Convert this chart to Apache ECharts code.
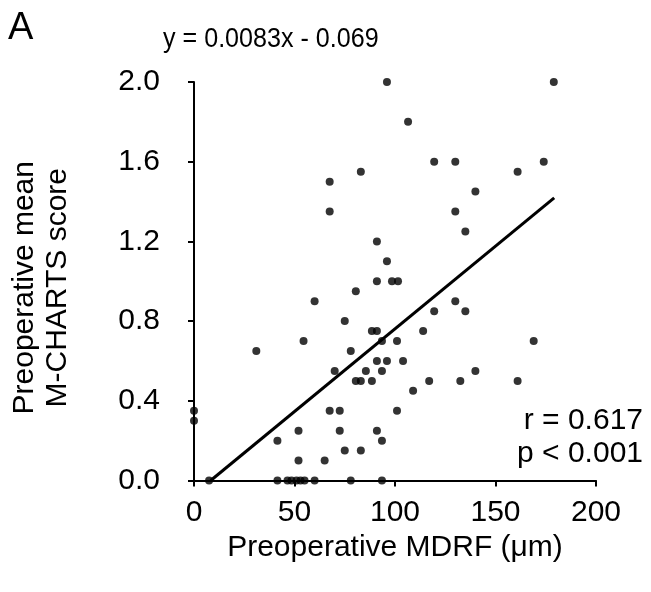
<!DOCTYPE html>
<html>
<head>
<meta charset="utf-8">
<script src="https://cdn.jsdelivr.net/npm/echarts@6/dist/echarts.min.js"></script>
<style>
html,body{margin:0;padding:0;background:#fff;}
#chart{width:651px;height:592px;}
</style>
</head>
<body>
<div id="chart"></div>
<script>
// Preoperative MDRF (µm)
var mdrf = [0, 0, 7.5, 31, 41.5, 41.5, 46.5, 48.5, 51, 53, 55, 60, 52, 52, 54.5, 60, 65,
  67.5, 67.5, 67.5, 72.5, 72.5, 70, 75, 75, 78, 78, 80.5, 80.5, 83, 83, 83, 85.5, 88.5, 88.5,
  91, 91, 91, 91, 91, 93.5, 93.5, 93.5, 93.5, 96, 96, 96, 98.5, 101.5, 101, 104, 101, 106.5,
  109, 114, 117, 119.5, 119.5, 130, 130, 130, 132.5, 135, 135, 140, 140, 161, 161, 169, 174, 179];
// Preoperative mean M-CHARTS score
var score = [0.35, 0.30, 0, 0.65, 0.2, 0, 0, 0, 0, 0, 0, 0, 0.25, 0.1, 0.7, 0.9, 0.1,
  1.5, 1.35, 0.35, 0.35, 0.25, 0.55, 0.8, 0.15, 0.65, 0, 0.95, 0.5, 0.5, 0.15, 1.55, 0.55, 0.5, 0.75,
  0.75, 1.2, 1.0, 0.6, 0.25, 0.7, 0.55, 0.2, 0, 2.0, 1.1, 0.6, 1.0, 1.0, 0.7, 0.6, 0.35, 1.8,
  0.45, 0.75, 0.5, 0.85, 1.6, 1.6, 1.35, 0.9, 0.5, 0.85, 1.25, 1.45, 0.55, 1.55, 0.5, 0.7, 1.6, 2.0];
// Regression line endpoints (y = 0.0083x - 0.069)
var fitX = [8.3, 179.2];
var fitY = [0, 1.418];
// Axis ticks
var xTicks = [0, 50, 100, 150, 200];
var yTicks = [0.0, 0.4, 0.8, 1.2, 1.6, 2.0];

var FONT = '"Liberation Sans", Arial, Helvetica, sans-serif';
var points = mdrf.map(function (x, i) { return [x, score[i]]; });
var fit = fitX.map(function (x, i) { return [x, fitY[i]]; });

var chart = echarts.init(document.getElementById('chart'), null, {renderer: 'canvas'});
chart.setOption({
  backgroundColor: '#ffffff',
  animation: false,
  grid: {left: 186, top: 82, width: 410, height: 398.5},
  xAxis: {
    type: 'value', min: xTicks[0], max: xTicks[xTicks.length - 1], interval: 50,
    name: 'Preoperative MDRF (\u03bcm)', nameLocation: 'middle', nameGap: 43,
    nameTextStyle: {color: '#000', fontSize: 30, fontFamily: FONT},
    axisLine: {show: true, onZero: false, lineStyle: {color: '#000', width: 2}},
    axisTick: {show: true, length: 6, lineStyle: {color: '#000', width: 2}},
    axisLabel: {color: '#000', fontSize: 30, fontFamily: FONT, margin: 17},
    splitLine: {show: false}
  },
  yAxis: {
    type: 'value', min: yTicks[0], max: yTicks[yTicks.length - 1], interval: 0.4,
    name: 'Preoperative mean\nM-CHARTS score', nameLocation: 'middle', nameGap: 120,
    nameTextStyle: {color: '#000', fontSize: 30, fontFamily: FONT, lineHeight: 33, padding: [0, 13, 0, 0]},
    axisLine: {show: true, onZero: false, lineStyle: {color: '#000', width: 2}},
    axisTick: {show: true, length: 6, lineStyle: {color: '#000', width: 2}},
    axisLabel: {color: '#000', fontSize: 30, fontFamily: FONT, margin: 34,
      formatter: function (v) { return v.toFixed(1); }},
    splitLine: {show: false}
  },
  series: [
    {
      type: 'scatter', data: points, symbol: 'circle', symbolSize: 8,
      itemStyle: {color: '#000'}, z: 3
    },
    {
      type: 'line', data: fit, symbol: 'none', lineStyle: {color: '#000', width: 3},
      z: 4
    }
  ],
  graphic: [
    {type: 'text', x: 8, y: 29, style: {text: 'A', fontSize: 38, fontFamily: FONT, fill: '#000',
      textAlign: 'left', textVerticalAlign: 'middle'}},
    {type: 'text', x: 163, y: 40, scaleX: 0.93, style: {text: 'y = 0.0083x - 0.069', fontSize: 27, fontFamily: FONT, fill: '#000',
      textAlign: 'left', textVerticalAlign: 'middle'}},
    {type: 'text', x: 643, y: 421, style: {text: 'r = 0.617', fontSize: 30, fontFamily: FONT, fill: '#000',
      textAlign: 'right', textVerticalAlign: 'middle'}},
    {type: 'text', x: 643, y: 454, style: {text: 'p < 0.001', fontSize: 30, fontFamily: FONT, fill: '#000',
      textAlign: 'right', textVerticalAlign: 'middle'}}
  ]
});
</script>
</body>
</html>
